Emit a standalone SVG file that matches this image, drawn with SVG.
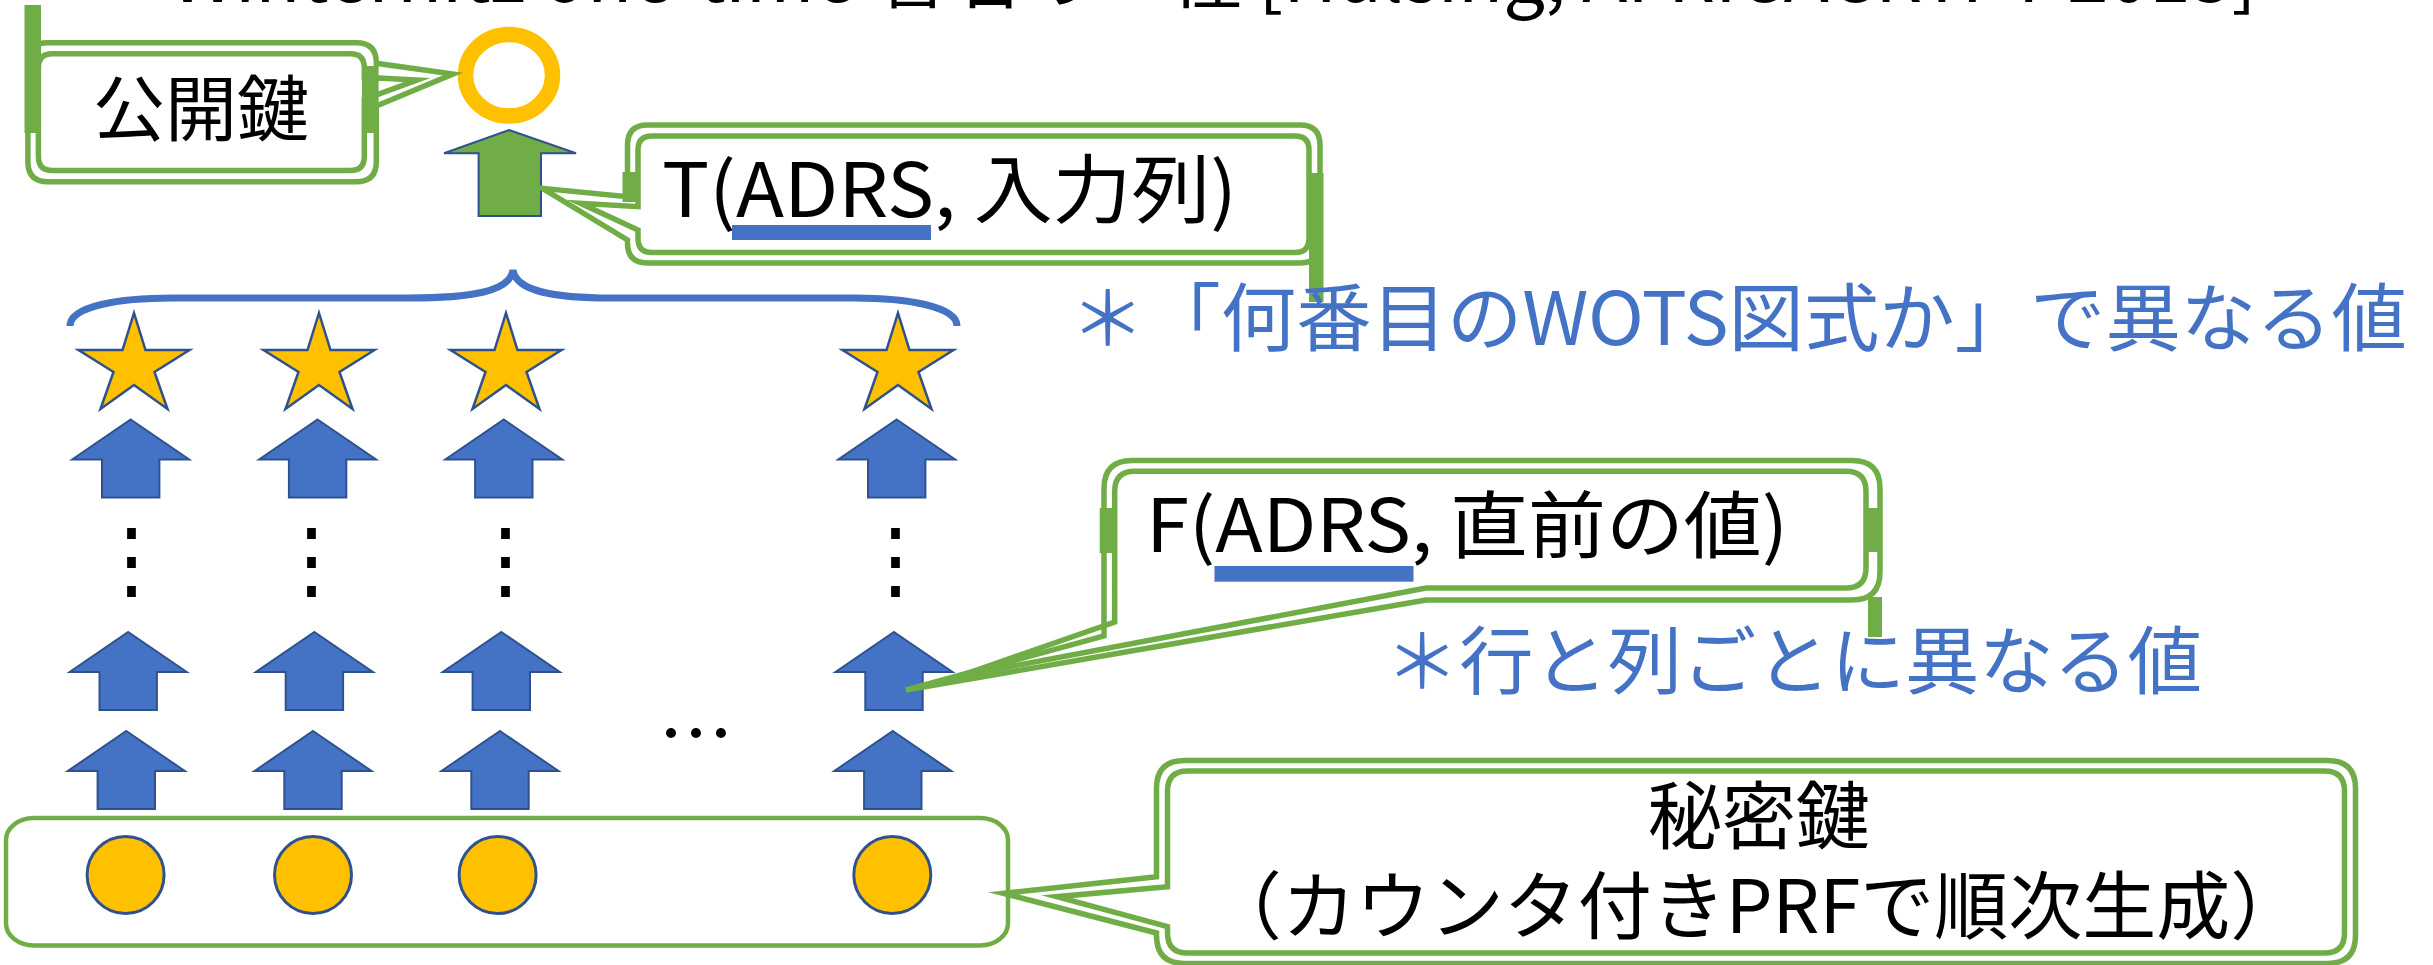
<svg xmlns="http://www.w3.org/2000/svg" width="2433" height="965" viewBox="0 0 2433 965">
<defs>
<style>
text { font-family: "Noto Sans CJK JP", "Noto Sans", sans-serif; }
.lbl { fill:#000; }
.note { fill:#4472C4; }
.co { fill:none; stroke:#70AD47; stroke-width:5.5; stroke-linejoin:miter; stroke-miterlimit:20; }
.bar { fill:#70AD47; }
.arr { fill:#4472C4; stroke:#2F528F; stroke-width:2; }
.star { fill:#FFC000; stroke:#2F528F; stroke-width:2.5; }
.seed { fill:#FFC000; stroke:#2F528F; stroke-width:3; }
.ul { fill:#4472C4; }
.dots { fill:#000; font-size:85px; }
</style>
<path id="star" d="M0,0 L11.5,37 L55.5,37 L20.5,59 L33.5,96 L0,72 L-33.5,96 L-20.5,59 L-55.5,37 L-11.5,37 Z"/>
<path id="arrow" d="M0,0 L58.5,40 L28.7,40 L28.7,78 L-28.7,78 L-28.7,40 L-58.5,40 Z"/>
</defs>
<rect width="2433" height="965" fill="#fff"/>

<g id="title">
<text class="lbl" x="170" y="2" font-size="74">Winternitz one-time 署名の一種 [Hülsing, AFRICACRYPT 2013]</text>
</g>

<g id="chains">
<use href="#arrow" class="arr" x="130.7" y="419.5"/>
<use href="#arrow" class="arr" x="317.6" y="419.5"/>
<use href="#arrow" class="arr" x="503.8" y="419.5"/>
<use href="#arrow" class="arr" x="896.7" y="419.5"/>
<use href="#arrow" class="arr" x="128.2" y="632"/>
<use href="#arrow" class="arr" x="314.4" y="632"/>
<use href="#arrow" class="arr" x="501.3" y="632"/>
<use href="#arrow" class="arr" x="894" y="632"/>
<use href="#arrow" class="arr" x="126.3" y="731"/>
<use href="#arrow" class="arr" x="313" y="731"/>
<use href="#arrow" class="arr" x="500" y="731"/>
<use href="#arrow" class="arr" x="892.8" y="731"/>
<text class="dots" x="131.4" y="589" text-anchor="middle">⋮</text>
<text class="dots" x="311" y="589" text-anchor="middle">⋮</text>
<text class="dots" x="505.7" y="589" text-anchor="middle">⋮</text>
<text class="dots" x="895.4" y="589" text-anchor="middle">⋮</text>
<text class="lbl" x="696" y="762" font-size="75" text-anchor="middle">…</text>
</g>

<g id="stars">
<use href="#star" class="star" x="134" y="313"/>
<use href="#star" class="star" x="319" y="313"/>
<use href="#star" class="star" x="506" y="313"/>
<use href="#star" class="star" x="898" y="313"/>
</g>

<g id="brace">
<path d="M70,326 C70,306 120,298 172,298 L408,298 C470,298 510,292 513,270 C516,292 556,298 612,298 L855,298 C905,298 957,306 957,326" fill="none" stroke="#4472C4" stroke-width="7"/>
</g>

<g id="public-key">
<ellipse cx="509" cy="75.3" rx="43.5" ry="40.8" fill="none" stroke="#FFC000" stroke-width="15.5"/>
<path d="M509,130 L576,153.3 L541,153.3 L541,216 L478.6,216 L478.6,153.3 L444,153.3 Z" fill="#70AD47" stroke="#2F528F" stroke-width="2"/>
</g>

<g id="secret-keys">
<rect x="6" y="818" width="1002" height="127.5" rx="28" ry="22" fill="none" stroke="#70AD47" stroke-width="4.5"/>
<circle class="seed" cx="125.6" cy="875" r="38.5"/>
<circle class="seed" cx="313" cy="875" r="38.5"/>
<circle class="seed" cx="497.6" cy="875" r="38.5"/>
<circle class="seed" cx="892.3" cy="875" r="38.5"/>
</g>

<g id="callout-pk">
<path class="co" d="M47.9,42.8 H356.3 Q376.3,42.8 376.3,62.8 V63.3 L453,74 L376.3,106 V161.7 Q376.3,181.7 356.3,181.7 H47.9 Q27.9,181.7 27.9,161.7 V62.8 Q27.9,42.8 47.9,42.8 Z"/>
<path class="co" d="M52.4,53.8 H350.3 Q364.3,53.8 364.3,67.8 V77.3 L417,80 L364.3,99.3 V156.5 Q364.3,170.5 350.3,170.5 H52.4 Q38.4,170.5 38.4,156.5 V67.8 Q38.4,53.8 52.4,53.8 Z"/>
<rect class="bar" x="24.5" y="5" width="16.5" height="128"/>
<rect class="bar" x="362" y="66" width="16.6" height="67"/>
<text class="lbl" x="201" y="135" font-size="72" text-anchor="middle">公開鍵</text>
</g>

<g id="callout-t">
<path class="co" d="M647.5,125 H1300 Q1320,125 1320,145 V243 Q1320,263 1300,263 H647.5 Q627.5,263 627.5,243 V240 L542.4,188.3 L627.5,196.7 V145 Q627.5,125 647.5,125 Z"/>
<path class="co" d="M652,136 H1295 Q1309,136 1309,150 V238.5 Q1309,252.5 1295,252.5 H652 Q638,252.5 638,238.5 V230 L580.4,203.3 L638,206.7 V150 Q638,136 652,136 Z"/>
<rect class="bar" x="622.5" y="172" width="16" height="30"/>
<rect class="bar" x="1309" y="173" width="14.5" height="129"/>
<text class="lbl" x="662" y="217" font-size="75" textLength="575" lengthAdjust="spacingAndGlyphs">T(ADRS, 入力列)</text>
<rect class="ul" x="732" y="225" width="199" height="15"/>
</g>

<g id="note-wots">
<text class="note" x="1070" y="345" font-size="74" textLength="1337" lengthAdjust="spacingAndGlyphs">＊「何番目のWOTS図式か」で異なる値</text>
</g>

<g id="callout-f">
<path class="co" d="M1132,460.5 H1852 Q1880,460.5 1880,488.5 V572 Q1880,600 1852,600 H1426 L906,690 L1104,636 V488.5 Q1104,460.5 1132,460.5 Z"/>
<path class="co" d="M1134.7,471.3 H1846 Q1866,471.3 1866,491.3 V568 Q1866,588 1846,588 H1426 L960,676 L1114.7,622 V491.3 Q1114.7,471.3 1134.7,471.3 Z"/>
<rect class="bar" x="1099.7" y="508" width="14" height="45"/>
<rect class="bar" x="1866" y="508" width="16" height="44"/>
<rect class="bar" x="1868" y="597" width="14" height="40"/>
<text class="lbl" x="1146" y="552" font-size="73" textLength="642" lengthAdjust="spacingAndGlyphs">F(ADRS, 直前の値)</text>
<rect class="ul" x="1214.5" y="566" width="199" height="15.7"/>
</g>

<g id="note-chain">
<text class="note" x="1385" y="688" font-size="74" textLength="817" lengthAdjust="spacingAndGlyphs">＊行と列ごとに異なる値</text>
</g>

<g id="callout-sk">
<path class="co" d="M1184.5,760.5 H2327.5 Q2355.5,760.5 2355.5,788.5 V935.5 Q2355.5,963.5 2327.5,963.5 H1184.5 Q1156.5,963.5 1156.5,935.5 V933 L1003.3,893.3 L1156.5,876.7 V788.5 Q1156.5,760.5 1184.5,760.5 Z"/>
<path class="co" d="M1187.5,771 H2324.5 Q2344.5,771 2344.5,791 V933 Q2344.5,953 2324.5,953 H1187.5 Q1167.5,953 1167.5,933 V926.7 L1056.7,896.7 L1167.5,886.7 V791 Q1167.5,771 1187.5,771 Z"/>
<text class="lbl" x="1758.7" y="843" font-size="74" text-anchor="middle">秘密鍵</text>
<text class="lbl" x="1756" y="933" font-size="74" text-anchor="middle">（カウンタ付きPRFで順次生成）</text>
</g>
</svg>
